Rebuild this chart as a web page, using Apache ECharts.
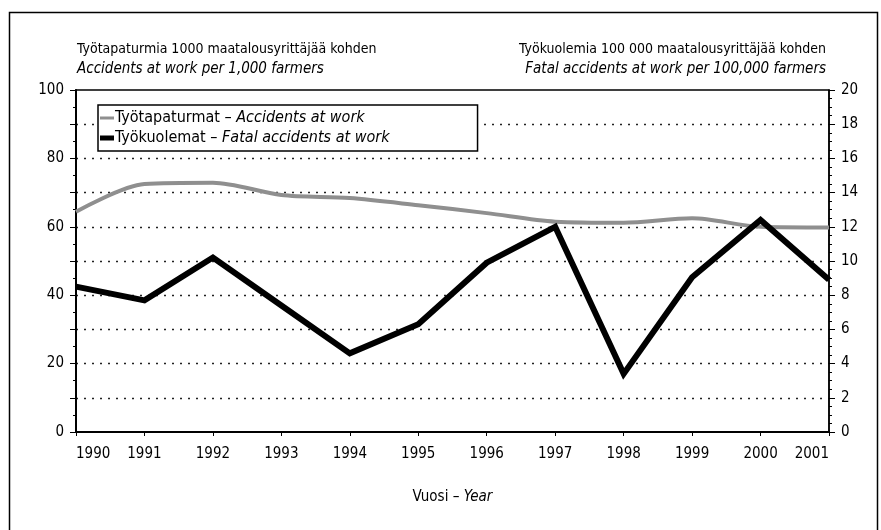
<!DOCTYPE html>
<html>
<head>
<meta charset="utf-8">
<script src="https://cdn.jsdelivr.net/npm/echarts@6/dist/echarts.min.js"></script>
<style>
    html, body { margin: 0; padding: 0; background: #fff; }
    #chart { width: 881px; height: 530px; }
</style>
</head>
<body>
<div id="chart"></div>
<script>
const years = ["1990", "1991", "1992", "1993", "1994", "1995", "1996", "1997", "1998", "1999", "2000", "2001"];
// tapaturmat / 1000 viljelijää (vasen akseli)
const accidents = [64.4, 72.5, 72.9, 69.3, 68.4, 66.3, 64.0, 61.5, 61.2, 62.5, 60.0, 59.8];
// kuolemat / 100 000 viljelijää (oikea akseli)
const fatal = [8.5, 7.7, 10.2, 7.4, 4.6, 6.3, 9.9, 12.0, 3.4, 9.05, 12.4, 8.9];

const fontFamily = "'Liberation Sans Narrow', 'DejaVu Sans Condensed', sans-serif";
const black = "#000";
const grey = "#8f8f8f";

function titleLine(pos, top, text, italic) {
    return Object.assign({
        top: top,
        text: text,
        padding: 0,
        textStyle: {
            fontSize: italic ? 15 : 14,
            fontWeight: "normal",
            fontStyle: italic ? "italic" : "normal",
            color: black,
            fontFamily: fontFamily
        }
    }, pos);
}

const chart = echarts.init(document.getElementById("chart"));
chart.setOption({
    animation: false,
    textStyle: { fontFamily: fontFamily, color: black },
    graphic: [
        {
            type: "rect",
            left: 7,
            top: 10,
            shape: { width: 868, height: 540 },
            style: { fill: "none", stroke: black, lineWidth: 1.5 },
            z: -1
        }
    ],
    title: [
        titleLine({ left: 77 }, 42, "Työtapaturmia 1000 maatalousyrittäjää kohden", false),
        titleLine({ left: 77 }, 62, "Accidents at work per 1,000 farmers", true),
        titleLine({ right: 55 }, 42, "Työkuolemia 100 000 maatalousyrittäjää kohden", false),
        titleLine({ right: 55 }, 62, "Fatal accidents at work per 100,000 farmers", true)
    ],
    legend: {
        orient: "vertical",
        left: 98,
        top: 105,
        padding: [5, 88, 5, 2],
        itemGap: 4,
        itemWidth: 14,
        itemHeight: 14,
        backgroundColor: "#fff",
        borderColor: black,
        borderWidth: 1.5,
        borderRadius: 0,
        data: [
            {
                name: "Työtapaturmat",
                icon: "path://M0,0L0.01,0L0,0Z M0,5.5H14V8.5H0Z M0,14L0.01,14L0,14Z",
                itemStyle: { color: grey }
            },
            {
                name: "Työkuolemat",
                icon: "path://M0,0L0.01,0L0,0Z M0,4.5H14V9.5H0Z M0,14L0.01,14L0,14Z",
                itemStyle: { color: black }
            }
        ],
        formatter: name => name == "Työtapaturmat"
            ? "Työtapaturmat – {i|Accidents at work}"
            : "Työkuolemat – {i|Fatal accidents at work}",
        textStyle: {
            fontSize: 16,
            color: black,
            padding: [0, 0, 0, -4],
            rich: { i: { fontStyle: "italic", fontSize: 16 } }
        }
    },
    grid: {
        left: 76,
        right: 52,
        top: 90,
        bottom: 98,
        show: true,
        borderColor: black,
        borderWidth: 1.5
    },
    xAxis: {
        type: "category",
        data: years,
        boundaryGap: false,
        axisLine: { lineStyle: { color: black, width: 2 } },
        axisTick: { show: true, length: 4, lineStyle: { color: black } },
        axisLabel: {
            fontSize: 15,
            color: black,
            margin: 15,
            alignMinLabel: "left",
            alignMaxLabel: "right"
        },
        name: "Vuosi – {i|Year}",
        nameLocation: "middle",
        nameGap: 58,
        nameTextStyle: {
            fontSize: 15,
            color: black,
            rich: { i: { fontStyle: "italic", fontSize: 15 } }
        }
    },
    yAxis: [
        {
            type: "value",
            min: 0,
            max: 100,
            interval: 10,
            position: "left",
            axisLine: { show: true, lineStyle: { color: black, width: 2 } },
            axisTick: { show: true, length: 6, lineStyle: { color: black } },
            minorTick: { show: true, splitNumber: 2, length: 3, lineStyle: { color: black } },
            axisLabel: {
                fontSize: 15,
                color: black,
                margin: 12,
                formatter: v => (v % 20 == 0 ? String(v) : "")
            },
            splitLine: {
                show: true,
                showMinLine: false,
                showMaxLine: false,
                lineStyle: { color: "#222", type: [2, 6], width: 1.3 }
            }
        },
        {
            type: "value",
            min: 0,
            max: 20,
            interval: 2,
            position: "right",
            axisLine: { show: true, lineStyle: { color: black, width: 1.5 } },
            axisTick: { show: true, length: 6, lineStyle: { color: black } },
            minorTick: { show: true, splitNumber: 4, length: 3, lineStyle: { color: black } },
            axisLabel: { fontSize: 15, color: black, margin: 12 },
            splitLine: { show: false }
        }
    ],
    series: [
        {
            name: "Työtapaturmat",
            type: "line",
            yAxisIndex: 0,
            data: accidents,
            smooth: 0.3,
            symbol: "none",
            color: grey,
            lineStyle: { color: grey, width: 4 },
            z: 3
        },
        {
            name: "Työkuolemat",
            type: "line",
            yAxisIndex: 1,
            data: fatal,
            symbol: "none",
            color: black,
            lineStyle: { color: black, width: 6, join: "miter" },
            z: 4
        }
    ]
});
</script>
</body>
</html>
